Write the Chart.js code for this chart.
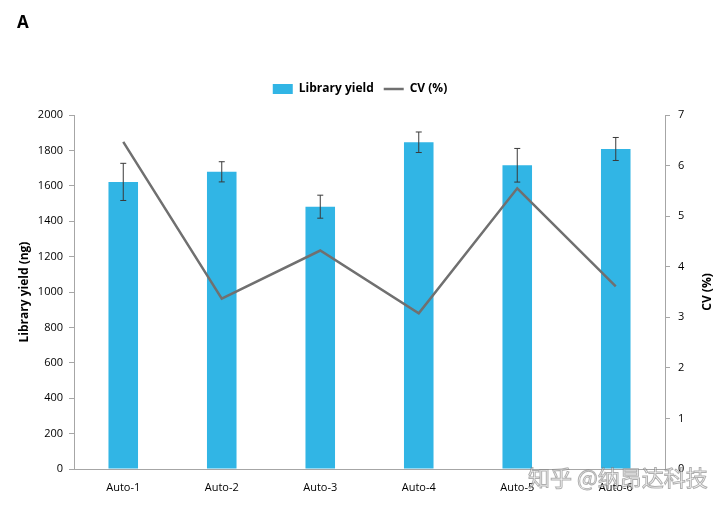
<!DOCTYPE html>
<html>
<head>
<meta charset="utf-8">
<script src="https://cdn.jsdelivr.net/npm/chart.js@4"></script>
<style>
  html, body { margin: 0; padding: 0; background: #fff; }
  #wrap { width: 720px; height: 506px; position: relative; }
</style>
</head>
<body>
<div id="wrap"><canvas id="yieldChart"></canvas></div>
<script>
// --- Data ---
const categories = ['Auto-1', 'Auto-2', 'Auto-3', 'Auto-4', 'Auto-5', 'Auto-6'];
const yieldValues = [1622, 1679, 1482, 1846, 1716, 1808];
const yieldErrors = [105, 57, 65, 58, 95, 65];
const cvValues = [6.47, 3.37, 4.32, 3.08, 5.55, 3.61];
const yieldTicks = [0, 200, 400, 600, 800, 1000, 1200, 1400, 1600, 1800, 2000];
const cvTicks = [0, 1, 2, 3, 4, 5, 6, 7];

const FONT = '"Open Sans", "Liberation Sans", sans-serif';
const axisGrey = '#a6a6a6';

// error bars on top of the yield bars
const errorBars = {
    id: 'errorBars',
    afterDatasetsDraw(chart) {
        const meta = chart.getDatasetMeta(0);
        const y = chart.scales.y;
        const ctx = chart.ctx;
        ctx.save();
        ctx.strokeStyle = '#3a3a3a';
        ctx.lineWidth = 1;
        meta.data.forEach((bar, i) => {
            const top = y.getPixelForValue(yieldValues[i] + yieldErrors[i]);
            const bot = y.getPixelForValue(yieldValues[i] - yieldErrors[i]);
            ctx.beginPath();
            ctx.moveTo(bar.x, top); ctx.lineTo(bar.x, bot);
            ctx.moveTo(bar.x - 3, top); ctx.lineTo(bar.x + 3, top);
            ctx.moveTo(bar.x - 3, bot); ctx.lineTo(bar.x + 3, bot);
            ctx.stroke();
        });
        ctx.restore();
    }
};

// extra space under the legend
const legendGap = {
    id: 'legendGap',
    afterInit(chart) {
        const fit = chart.legend.fit;
        chart.legend.fit = function () {
            fit.call(this);
            this.height += 10;
        };
    }
};

// panel letter, right axis title (reads bottom-up like the left one) and watermark
const extras = {
    id: 'extras',
    afterDraw(chart) {
        const ctx = chart.ctx;
        const area = chart.chartArea;
        ctx.save();
        ctx.fillStyle = '#000';
        ctx.font = 'bold 17px ' + FONT;
        ctx.textBaseline = 'middle';
        ctx.fillText('A', 17, 23);

        ctx.save();
        ctx.translate(708, (area.top + area.bottom) / 2);
        ctx.rotate(-Math.PI / 2);
        ctx.font = 'bold 12px ' + FONT;
        ctx.textAlign = 'center';
        ctx.fillText('CV (%)', 0, 0);
        ctx.restore();

        ctx.font = '22px "Noto Sans CJK SC"';
        ctx.lineWidth = 1;
        ctx.fillStyle = 'rgba(255,255,255,0.55)';
        ctx.strokeStyle = 'rgba(110,110,110,0.55)';
        ctx.fillText('知乎 @纳昂达科技', 528, 478);
        ctx.strokeText('知乎 @纳昂达科技', 528, 478);
        ctx.restore();
    }
};

const plainTick = v => String(v);

const ctx = document.getElementById('yieldChart').getContext('2d');
new Chart(ctx, {
    data: {
        labels: categories,
        datasets: [{
            type: 'bar',
            label: 'Library yield',
            data: yieldValues,
            backgroundColor: '#31b5e5',
            borderWidth: 0,
            barPercentage: 0.30,
            categoryPercentage: 1,
            yAxisID: 'y',
            order: 2
        }, {
            type: 'line',
            label: 'CV (%)',
            data: cvValues,
            borderColor: '#707070',
            backgroundColor: '#707070',
            borderWidth: 2.5,
            pointRadius: 0,
            tension: 0,
            yAxisID: 'y1',
            order: 1
        }]
    },
    options: {
        responsive: true,
        maintainAspectRatio: false,
        animation: false,
        layout: { padding: { top: 73, left: 0, right: 0, bottom: 0 } },
        plugins: {
            legend: {
                position: 'top',
                labels: {
                    usePointStyle: true,
                    pointStyleWidth: 20,
                    boxHeight: 10,
                    padding: 10,
                    color: '#000',
                    font: { family: FONT, size: 12, weight: 'bold' },
                    generateLabels(chart) {
                        return chart.data.datasets.map((ds, i) => ({
                            text: ds.label,
                            fillStyle: ds.type === 'bar' ? ds.backgroundColor : ds.borderColor,
                            strokeStyle: ds.type === 'bar' ? ds.backgroundColor : ds.borderColor,
                            lineWidth: ds.type === 'bar' ? 0 : 2.5,
                            pointStyle: ds.type === 'bar' ? 'rect' : 'line',
                            fontColor: '#000',
                            datasetIndex: i,
                            hidden: false
                        }));
                    }
                }
            },
            tooltip: { enabled: false }
        },
        scales: {
            x: {
                grid: { display: false },
                border: { display: true, color: axisGrey },
                ticks: { color: '#000', font: { family: FONT, size: 11 }, padding: 4 },
                afterFit(scale) { scale.height = 37; }
            },
            y: {
                position: 'left',
                min: 0, max: 2000,
                afterBuildTicks(scale) { scale.ticks = yieldTicks.map(v => ({ value: v })); },
                grid: { drawOnChartArea: false, tickLength: 5, tickColor: axisGrey },
                border: { color: axisGrey },
                ticks: { color: '#000', font: { family: FONT, size: 11 }, padding: 6, callback: plainTick },
                title: {
                    display: true, text: 'Library yield (ng)', color: '#000',
                    font: { family: FONT, size: 12, weight: 'bold' }, padding: { top: 17, bottom: 0 }
                },
                afterFit(scale) { scale.width = 74; }
            },
            y1: {
                position: 'right',
                min: 0, max: 7,
                afterBuildTicks(scale) { scale.ticks = cvTicks.map(v => ({ value: v })); },
                grid: { drawOnChartArea: false, tickLength: 5, tickColor: axisGrey },
                border: { color: axisGrey },
                ticks: { color: '#000', font: { family: FONT, size: 11 }, padding: 8, callback: plainTick },
                afterFit(scale) { scale.width = 55; }
            }
        }
    },
    plugins: [legendGap, errorBars, extras]
});
</script>
</body>
</html>
